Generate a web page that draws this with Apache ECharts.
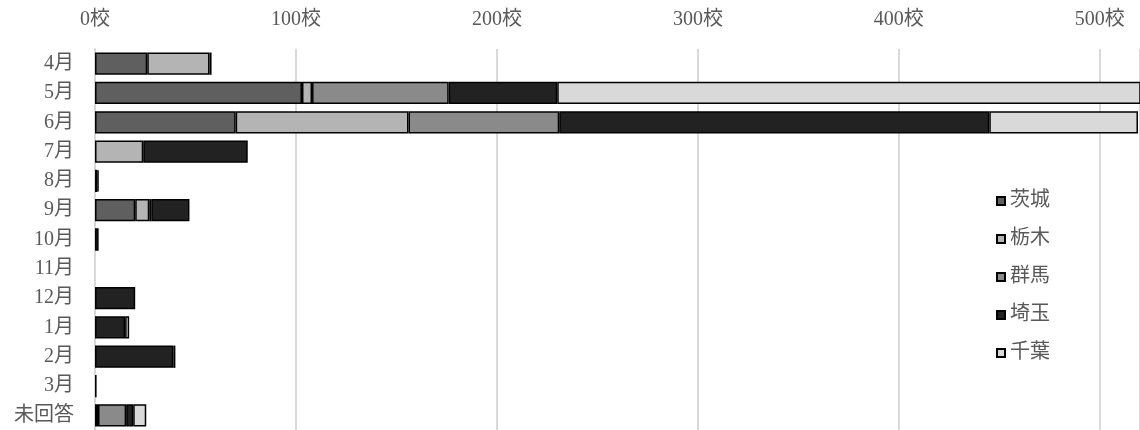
<!DOCTYPE html>
<html>
<head>
<meta charset="utf-8">
<script src="https://cdn.jsdelivr.net/npm/echarts@6/dist/echarts.min.js"></script>
<style>html,body{margin:0;padding:0;background:#fff}#c{width:1140px;height:430px}</style>
</head>
<body>
<div id="c"></div>
<script>
const categories = ['4月','5月','6月','7月','8月','9月','10月','11月','12月','1月','2月','3月','未回答'];
const seriesNames = ['茨城','栃木','群馬','埼玉','千葉'];
const ibaraki = [26, 103, 70, 0, 0, 20, 0, 0, 0, 0, 0, 0, 0];
const tochigi = [31, 5, 86, 24, 1.2, 7, 0, 0, 0, 0, 0, 0, 1.5];
const gunma   = [0, 68, 75, 0, 0, 1, 0, 0, 0, 0, 0, 0, 14];
const saitama = [1, 54, 214, 52, 0.6, 19, 1.8, 0, 20, 15, 39, 0.8, 3.5];
const chiba   = [0, 310, 74, 0, 0, 0, 0, 0, 0, 2, 1, 0, 6.5];
const xTicks = [0, 100, 200, 300, 400, 500];
const colors = ['#5f5f5f', '#b4b4b4', '#8a8a8a', '#222222', '#d9d9d9'];
const values = [ibaraki, tochigi, gunma, saitama, chiba];

const FONT = "'Liberation Serif', 'DejaVu Serif', 'Noto Sans CJK JP', serif";
const chart = echarts.init(document.getElementById('c'), null, {renderer: 'canvas'});
chart.setOption({
  animation: false,
  textStyle: {fontFamily: FONT},
  grid: {left: 95, right: 0, top: 49, height: 384, containLabel: false},
  legend: {
    orient: 'vertical', left: 991, top: 186,
    itemWidth: 8, itemHeight: 8, itemGap: 18,
    icon: 'rect',
    textStyle: {fontSize: 20, color: '#595959', fontFamily: FONT},
    data: seriesNames
  },
  xAxis: {
    type: 'value', position: 'top', min: 0, max: 520, interval: 100,
    axisLine: {show: false}, axisTick: {show: false},
    splitLine: {lineStyle: {color: '#d9d9d9', width: 2}},
    axisLabel: {
      fontSize: 20, color: '#595959', margin: 19, fontFamily: FONT,
      showMaxLabel: false,
      formatter: v => xTicks.indexOf(v) >= 0 ? v + '校' : ''
    }
  },
  yAxis: {
    type: 'category', inverse: true, data: categories,
    axisTick: {show: false},
    axisLine: {lineStyle: {color: '#d9d9d9', width: 2}},
    axisLabel: {fontSize: 20, color: '#595959', margin: 21, fontFamily: FONT}
  },
  series: seriesNames.map((n, i) => ({
    name: n, type: 'bar', stack: 'total',
    barCategoryGap: '24%',
    data: values[i].map(v => v === 0 ? '-' : v),
    clip: true,
    itemStyle: {color: colors[i], borderColor: '#000', borderWidth: 1.5}
  }))
});
</script>
</body>
</html>
